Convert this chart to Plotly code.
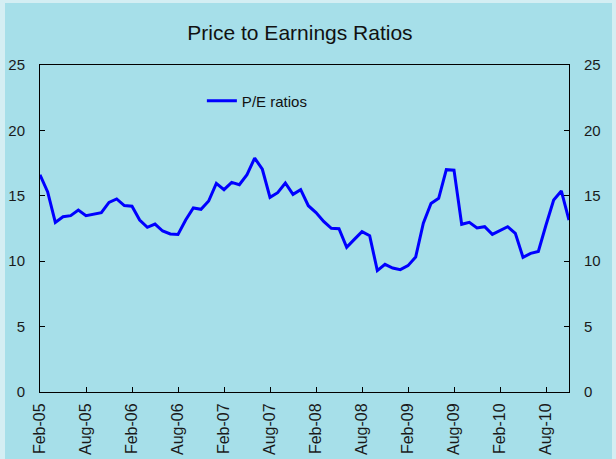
import plotly.graph_objects as go

months = ["Jan", "Feb", "Mar", "Apr", "May", "Jun", "Jul", "Aug", "Sep", "Oct", "Nov", "Dec"]
categories = []
y, m = 2005, 1
for _ in range(70):
    categories.append(f"{months[m]}-{str(y)[2:]}")
    m += 1
    if m == 12:
        m = 0
        y += 1

pe_ratios = [16.6, 15.3, 12.97, 13.4, 13.48, 13.91, 13.48, 13.61, 13.71, 14.5,
             14.76, 14.25, 14.2, 13.15, 12.59, 12.84, 12.31, 12.08, 12.04, 13.15,
             14.07, 13.97, 14.6, 15.95, 15.47, 16.03, 15.85, 16.61, 17.89, 17.03,
             14.88, 15.24, 15.98, 15.11, 15.47, 14.24, 13.72, 13.04, 12.51, 12.49,
             11.06, 11.67, 12.26, 11.95, 9.28, 9.76, 9.48, 9.35, 9.66, 10.32,
             12.9, 14.42, 14.81, 17.0, 16.96, 12.82, 12.97, 12.54, 12.64, 12.05,
             12.33, 12.64, 12.13, 10.3, 10.6, 10.75, 12.77, 14.68, 15.37, 13.15]

tick_labels = categories[::6]
y_ticks = [0, 5, 10, 15, 20, 25]

FONT = "Liberation Sans, Arial, sans-serif"
BG = "#a6dfe9"
OUTER = "#d4eef3"

fig = go.Figure()
fig.add_trace(go.Scatter(x=categories, y=pe_ratios, mode="lines", name="P/E ratios",
                         line=dict(color="#0000ff", width=3)))
fig.add_trace(go.Scatter(x=categories, y=pe_ratios, mode="lines", yaxis="y2",
                         showlegend=False, hoverinfo="skip",
                         line=dict(color="rgba(0,0,0,0)", width=0)))

axis_common = dict(range=[0, 25], tickvals=y_ticks, ticks="inside", ticklen=5,
                   tickcolor="black", showline=True, linecolor="black", linewidth=1,
                   showgrid=False, zeroline=False, automargin=False,
                   ticklabelstandoff=11,
                   tickfont=dict(family=FONT, size=15, color="#1a1a1a"))

fig.update_layout(
    width=616, height=459,
    margin=dict(l=40, r=47, t=65, b=67, autoexpand=False),
    paper_bgcolor=OUTER,
    plot_bgcolor=BG,
    title=dict(text="Price to Earnings Ratios", x=0.487, xanchor="center",
               y=1 - 33 / 459, yanchor="middle",
               font=dict(family=FONT, size=21, color="#111111")),
    xaxis=dict(type="category", range=[0, 69], tickvals=tick_labels, ticktext=tick_labels,
               tickangle=-90, ticks="inside", ticklen=5, tickcolor="black",
               showline=True, linecolor="black", linewidth=1, mirror=True,
               showgrid=False, zeroline=False, automargin=False,
               ticklabelstandoff=4,
               tickfont=dict(family=FONT, size=16, color="#1a1a1a")),
    yaxis=dict(side="left", **axis_common),
    yaxis2=dict(side="right", overlaying="y", **axis_common),
    legend=dict(x=0.306, y=0.89, xanchor="left", yanchor="middle",
                bgcolor="rgba(0,0,0,0)", borderwidth=0,
                font=dict(family=FONT, size=15, color="#111111")),
    showlegend=True,
    shapes=[dict(type="rect", xref="paper", yref="paper", layer="below",
                 x0=(5 - 40) / 529, x1=(612 - 40) / 529,
                 y0=(392 - 470) / 327, y1=(392 - 3) / 327,
                 fillcolor=BG, line=dict(width=0))],
)

fig.write_html("out.html", config={"displayModeBar": False},
               post_script="document.body.style.margin='0px';document.body.style.overflow='hidden';")
